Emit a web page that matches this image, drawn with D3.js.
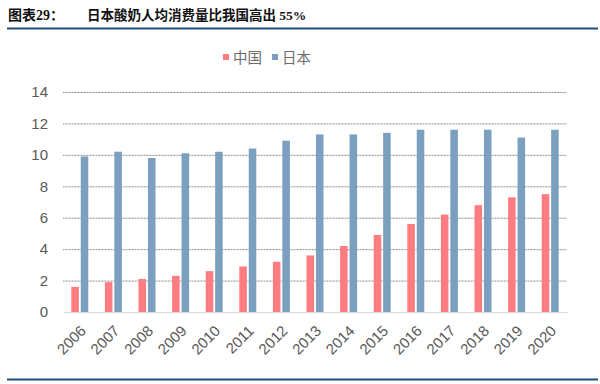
<!DOCTYPE html>
<html>
<head>
<meta charset="utf-8">
<script src="https://cdn.jsdelivr.net/npm/d3@7"></script>
<style>
  body { margin: 0; background: #fff; }
  svg { display: block; font-family: "Liberation Sans", Arial, sans-serif; }
</style>
</head>
<body>
<div class="chart"></div>
<script>
const years = ['2006','2007','2008','2009','2010','2011','2012','2013','2014','2015','2016','2017','2018','2019','2020'];
const chinaValues = [1.6, 1.9, 2.1, 2.3, 2.6, 2.9, 3.2, 3.6, 4.2, 4.9, 5.6, 6.2, 6.8, 7.3, 7.5];
const japanValues = [9.9, 10.2, 9.8, 10.1, 10.2, 10.4, 10.9, 11.3, 11.3, 11.4, 11.6, 11.6, 11.6, 11.1, 11.6];
const seriesNames = ['中国', '日本'];
const yTicks = [0, 2, 4, 6, 8, 10, 12, 14];

const colors = ['#ff7c80', '#7ba0bf'];
const svgWidth = 600, svgHeight = 384;
const margin = { top: 92, right: 33, bottom: 72, left: 63 };
const width = svgWidth - margin.left - margin.right;
const height = svgHeight - margin.top - margin.bottom;

const root = d3.select('.chart').append('svg')
    .attr('width', svgWidth)
    .attr('height', svgHeight);

// title + rules
const titleFont = '"Liberation Serif", "Noto Sans CJK SC", serif';
root.append('text')
    .attr('x', 8).attr('y', 20)
    .style('font-family', titleFont)
    .style('font-size', '14px')
    .style('font-weight', 'bold')
    .attr('fill', '#111')
    .text('图表29：');
root.append('text')
    .attr('x', 87).attr('y', 20)
    .style('font-family', titleFont)
    .style('font-size', '13.5px')
    .style('font-weight', 'bold')
    .attr('fill', '#111')
    .text('日本酸奶人均消费量比我国高出 55%');
root.append('line')
    .attr('x1', 7).attr('x2', 598).attr('y1', 28.5).attr('y2', 28.5)
    .attr('stroke', '#1f4e79').attr('stroke-width', 2);
root.append('line')
    .attr('x1', 7).attr('x2', 598).attr('y1', 379.5).attr('y2', 379.5)
    .attr('stroke', '#1f4e79').attr('stroke-width', 2);

// legend
const legend = root.append('g').attr('transform', 'translate(223,58)');
seriesNames.forEach((name, i) => {
    const g = legend.append('g').attr('transform', `translate(${i * 49},0)`);
    g.append('rect').attr('x', 0).attr('y', -4).attr('width', 6).attr('height', 6).attr('fill', colors[i]);
    g.append('text').attr('x', 10).attr('y', 5)
        .style('font-family', '"Noto Sans CJK SC", sans-serif')
        .style('font-size', '14.5px').attr('fill', '#6b6b6b').text(name);
});

const svg = root.append('g').attr('transform', `translate(${margin.left},${margin.top})`);

const x = d3.scaleBand().domain(years).range([0, width]).padding(0);
const x1 = d3.scaleBand().domain(seriesNames).range([x.bandwidth() / 2 - 8.5, x.bandwidth() / 2 + 8.5]).paddingInner(0.2);
const y = d3.scaleLinear().domain([0, 14]).range([height, 0]);

// grid
svg.append('g')
    .call(d3.axisLeft(y).tickValues(yTicks).tickSize(-width).tickFormat(''))
    .call(g => g.select('.domain').remove())
    .call(g => g.selectAll('line').attr('stroke', '#8c8c8c').attr('stroke-width', 1)
        .attr('stroke-dasharray', '1,0.5'))
    .call(g => g.selectAll('.tick').filter(d => d === 0).remove());

// y labels
svg.append('g')
    .call(d3.axisLeft(y).tickValues(yTicks).tickSize(0).tickPadding(15))
    .call(g => g.select('.domain').remove())
    .call(g => g.selectAll('text').attr('fill', '#595959').style('font-size', '15px'));

const data = years.map((yr, i) => ({ year: yr, values: [chinaValues[i], japanValues[i]] }));

svg.selectAll('.group')
    .data(data)
    .enter()
    .append('g')
    .attr('transform', d => `translate(${x(d.year)},0)`)
    .selectAll('rect')
    .data(d => d.values.map((v, i) => ({ key: seriesNames[i], value: v, i })))
    .enter()
    .append('rect')
    .attr('x', d => x1(d.key))
    .attr('y', d => y(d.value))
    .attr('width', x1.bandwidth())
    .attr('height', d => height - y(d.value))
    .attr('fill', d => colors[d.i]);

// x axis
svg.append('g')
    .attr('transform', `translate(0,${height})`)
    .call(d3.axisBottom(x).tickSize(0).tickPadding(10))
    .call(g => g.select('.domain').attr('stroke', '#d9d9d9'))
    .selectAll('text')
    .attr('fill', '#595959')
    .style('font-size', '15px')
    .attr('transform', 'rotate(-45)')
    .style('text-anchor', 'end')
    .attr('dx', '-0.6em')
    .attr('dy', '0.6em');
</script>
</body>
</html>
